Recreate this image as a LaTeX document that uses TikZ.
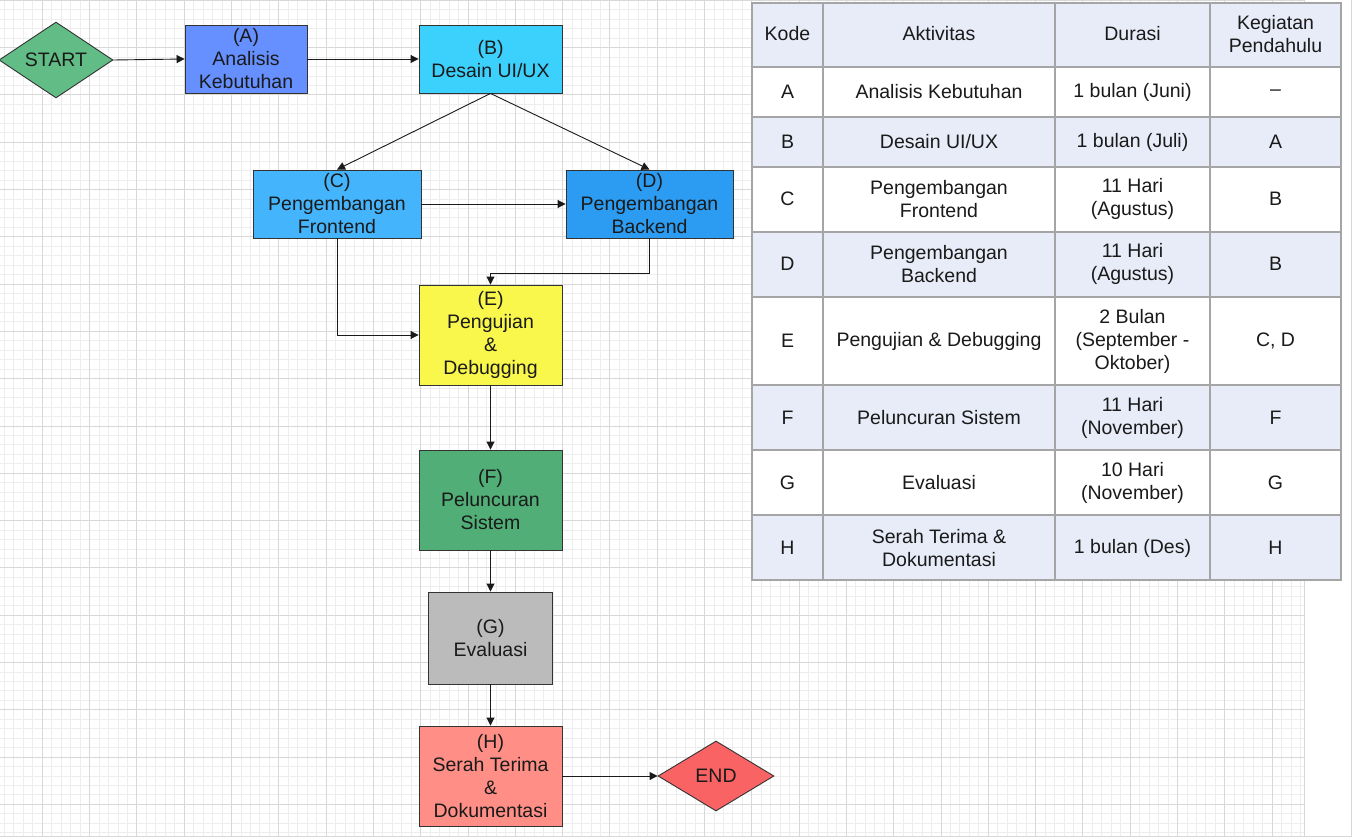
\documentclass[tikz,border=0pt]{standalone}
\usepackage{fontspec}
\setmainfont{Liberation Sans}
\usetikzlibrary{arrows.meta,shapes.geometric}
\definecolor{gminor}{HTML}{EDEDED}
\definecolor{gmajor}{HTML}{D8D8D8}
\definecolor{boxline}{HTML}{333333}
\definecolor{txt}{HTML}{1A1A1A}
\definecolor{cS}{HTML}{62BC86}
\definecolor{cA}{HTML}{6690FF}
\definecolor{cB}{HTML}{3CD0FC}
\definecolor{cC}{HTML}{44B4FC}
\definecolor{cD}{HTML}{2B9CF2}
\definecolor{cE}{HTML}{F9F64C}
\definecolor{cF}{HTML}{50AE76}
\definecolor{cG}{HTML}{BBBBBB}
\definecolor{cH}{HTML}{FF8F86}
\definecolor{cEnd}{HTML}{F96363}
\definecolor{rowfill}{HTML}{E8ECF8}
\definecolor{tline}{HTML}{A5A5A5}
\newcommand{\fs}{\fontsize{19.5}{23}\selectfont}
\begin{document}
\begin{tikzpicture}[x=1pt,y=-1pt,
  minorln/.style={draw=gminor,line width=0.9pt},
  majorln/.style={draw=gmajor,line width=0.9pt},
  box/.style={draw=boxline,line width=0.9pt,align=center,font=\fs,inner sep=0pt,text=txt},
  term/.style={box,shape=diamond,inner sep=0pt},
  conn/.style={draw=txt,line width=0.9pt,-{Triangle[length=8pt,width=8pt]}},
  cell/.style={font=\fs,align=center,inner sep=0pt,text=txt},
  tgrid/.style={draw=tline,line width=1.3pt}]
\useasboundingbox (0,0) rectangle (1355,837);
\fill[white] (0,0) rectangle (1355,837);
% background grid
\foreach \i in {0,...,137}{\pgfmathsetmacro{\gx}{4.46+9.46*\i}\draw[minorln] (\gx,0) -- (\gx,836);}
\foreach \j in {0,...,88}{\pgfmathsetmacro{\gy}{0.3+9.46*\j}\draw[minorln] (0,\gy) -- (1304,\gy);}
\foreach \k in {0,...,26}{\pgfmathsetmacro{\gx}{42.3+47.3*\k}\draw[majorln] (\gx,0) -- (\gx,836);}
\foreach \k in {0,...,17}{\pgfmathsetmacro{\gy}{0.3+47.3*\k}\draw[majorln] (0,\gy) -- (1304,\gy);}
\draw[majorln] (1304,0) -- (1304,836);
\draw[majorln] (0,836) -- (1352,836);
\draw[draw=gmajor,line width=1.5pt] (1351.5,0) -- (1351.5,837);
% flowchart
\node[term,fill=cS,minimum width=114,minimum height=70] (S) at (56,60) {START};
\node[box,fill=cA,minimum width=122,minimum height=68] (A) at (246,59) {(A)\\Analisis\\Kebutuhan};
\node[box,fill=cB,minimum width=143,minimum height=68] (B) at (490.5,59) {(B)\\Desain UI/UX};
\node[box,fill=cC,minimum width=168,minimum height=68] (C) at (337,204) {(C)\\Pengembangan\\Frontend};
\node[box,fill=cD,minimum width=167,minimum height=68] (D) at (649.5,204) {(D)\\Pengembangan\\Backend};
\node[box,fill=cE,minimum width=143,minimum height=100] (E) at (490.5,335) {(E)\\Pengujian\\\&\\Debugging};
\node[box,fill=cF,minimum width=143,minimum height=100] (F) at (490.5,500) {(F)\\Peluncuran\\Sistem};
\node[box,fill=cG,minimum width=124,minimum height=92] (G) at (490.5,638) {(G)\\Evaluasi};
\node[box,fill=cH,minimum width=143,minimum height=100] (H) at (490.5,776) {(H)\\Serah Terima\\\&\\Dokumentasi};
\node[term,fill=cEnd,minimum width=116,minimum height=70] (END) at (716,776) {END};
\draw[conn] (S.east) -- (A.west);
\draw[conn] (A.east) -- (B.west);
\draw[conn] (B.south) -- (C.north);
\draw[conn] (B.south) -- (D.north);
\draw[conn] (C.east) -- (D.west);
\draw[conn] (D.south) -- ++(0,35) -| (E.north);
\draw[conn] (C.south) |- (E.west);
\draw[conn] (E.south) -- (F.north);
\draw[conn] (F.south) -- (G.north);
\draw[conn] (G.south) -- (H.north);
\draw[conn] (H.east) -- (END.west);
% table
\fill[white] (752,3) rectangle (1341,580);
\fill[rowfill] (752,3) rectangle (1341,67);
\fill[rowfill] (752,117) rectangle (1341,167);
\fill[rowfill] (752,232) rectangle (1341,297);
\fill[rowfill] (752,385) rectangle (1341,450);
\fill[rowfill] (752,515) rectangle (1341,580);
\foreach \yy in {67,117,167,232,297,385,450,515}{\draw[tgrid] (752,\yy) -- (1341,\yy);}
\foreach \xx in {823,1055,1210}{\draw[tgrid] (\xx,3) -- (\xx,580);}
\draw[draw=tline,line width=1.6pt] (752,3) rectangle (1341,580);
% header
\node[cell] (h1) at (787.5,34) {Kode};
\node[cell] (h2) at (939,34) {Aktivitas};
\node[cell] (h3) at (1132.5,34) {Durasi};
\node[cell] (h4) at (1275.5,34) {Kegiatan\\Pendahulu};
% rows
\node[cell] (a1) at (787.5,92) {A};
\node[cell] (a2) at (939,92) {Analisis Kebutuhan};
\node[cell] (a3) at (1132.5,92) {1 bulan (Juni)};
\node[cell] (a4) at (1275.5,93) {--};
\node[cell] (b1) at (787.5,142) {B};
\node[cell] (b2) at (939,142) {Desain UI/UX};
\node[cell] (b3) at (1132.5,142) {1 bulan (Juli)};
\node[cell] (b4) at (1275.5,142) {A};
\node[cell] (c1) at (787.5,199) {C};
\node[cell] (c2) at (939,199) {Pengembangan\\Frontend};
\node[cell] (c3) at (1132.5,199) {11 Hari\\(Agustus)};
\node[cell] (c4) at (1275.5,199) {B};
\node[cell] (d1) at (787.5,264) {D};
\node[cell] (d2) at (939,264) {Pengembangan\\Backend};
\node[cell] (d3) at (1132.5,264) {11 Hari\\(Agustus)};
\node[cell] (d4) at (1275.5,264) {B};
\node[cell] (e1) at (787.5,341) {E};
\node[cell] (e2) at (939,341) {Pengujian \& Debugging};
\node[cell] (e3) at (1132.5,341) {2 Bulan\\(September -\\Oktober)};
\node[cell] (e4) at (1275.5,341) {C, D};
\node[cell] (f1) at (787.5,418) {F};
\node[cell] (f2) at (939,418) {Peluncuran Sistem};
\node[cell] (f3) at (1132.5,418) {11 Hari\\(November)};
\node[cell] (f4) at (1275.5,418) {F};
\node[cell] (g1) at (787.5,483) {G};
\node[cell] (g2) at (939,483) {Evaluasi};
\node[cell] (g3) at (1132.5,483) {10 Hari\\(November)};
\node[cell] (g4) at (1275.5,483) {G};
\node[cell] (k1) at (787.5,548) {H};
\node[cell] (k2) at (939,548) {Serah Terima \&\\Dokumentasi};
\node[cell] (k3) at (1132.5,548) {1 bulan (Des)};
\node[cell] (k4) at (1275.5,548) {H};
\end{tikzpicture}
\end{document}
